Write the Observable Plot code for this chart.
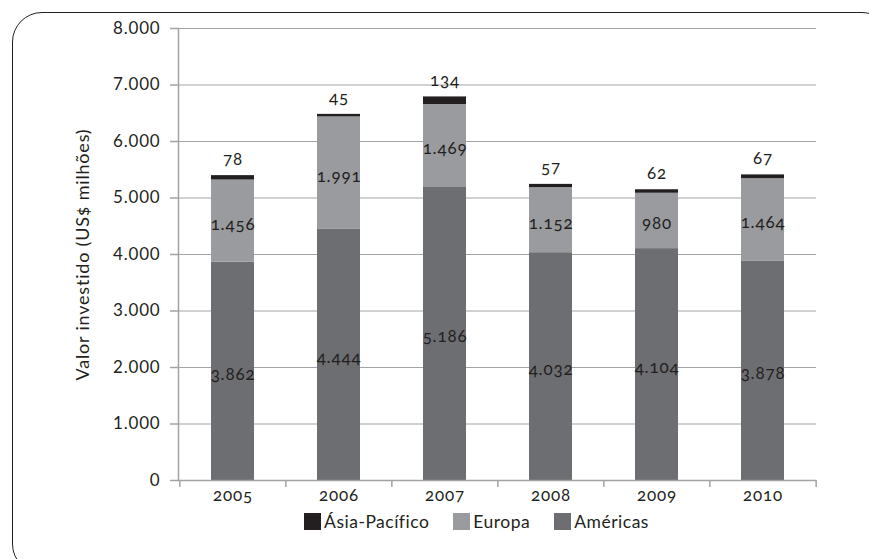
<!DOCTYPE html>
<html>
<head>
<meta charset="utf-8">
<script src="https://cdn.jsdelivr.net/npm/d3@7"></script>
<script src="https://cdn.jsdelivr.net/npm/@observablehq/plot@0.6"></script>
<style>
  html, body { margin: 0; padding: 0; background: #fff; }
  body { width: 869px; height: 559px; position: relative; overflow: hidden; font-family: Lato, "Open Sans", sans-serif; font-variant-numeric: oldstyle-nums; color: #231f20; }
  #frame { position: absolute; left: 12px; top: 12px; width: 880px; height: 562px; border: 1.3px solid #231f20; border-radius: 30px; box-sizing: border-box; pointer-events: none; }
  #chart { position: absolute; left: 0; top: 0; }
  #chart svg text { letter-spacing: 0.8px; }
  #chart svg g[aria-label="ytitle"] text { letter-spacing: 0; }
  #legend { position: absolute; left: 0; top: 511px; width: 869px; display: flex; justify-content: center; font-size: 17.5px; letter-spacing: 0.5px; padding-left: 84px; box-sizing: border-box; }
  #legend .item { display: flex; align-items: center; margin: 0 12px; }
  #legend .sw { width: 17px; height: 17px; margin-right: 3px; display: inline-block; }
</style>
</head>
<body>
<div id="chart"></div>
<div id="legend"></div>
<div id="frame"></div>
<script>
const years = ["2005", "2006", "2007", "2008", "2009", "2010"];
const americas = [3862, 4444, 5186, 4032, 4104, 3878];
const europa = [1456, 1991, 1469, 1152, 980, 1464];
const asia = [78, 45, 134, 57, 62, 67];
const regions = ["Américas", "Europa", "Ásia-Pacífico"];
const colors = ["#6d6e71", "#9a9b9e", "#231f20"];
const yTicks = [0, 1000, 2000, 3000, 4000, 5000, 6000, 7000, 8000];
const yLabel = "Valor investido (US$ milhões)";

const series = {"Américas": americas, "Europa": europa, "Ásia-Pacífico": asia};
const data = [];
for (const r of regions) years.forEach((y, i) => data.push({year: y, region: r, value: series[r][i]}));

const pt = d3.formatLocale({decimal: ",", thousands: ".", grouping: [3], currency: ["US$", ""]});
const fmt = pt.format(",d");

const W = 869, H = 508, mL = 178, mR = 53, mT = 28, mB = 28;
const halfStep = (W - mL - mR) / years.length / 2;
const tickLen = 7 / ((H - mT - mB) / 8000);
const grid = "#a3a3a3";

const chart = Plot.plot({
  width: W, height: H,
  marginLeft: mL, marginRight: mR, marginTop: mT, marginBottom: mB,
  style: {fontFamily: "Lato, 'Open Sans', sans-serif", fontSize: "16.5px", color: "#231f20", fontVariantNumeric: "oldstyle-nums"},
  x: {domain: years, paddingInner: 0.595, paddingOuter: 0.2975, label: null},
  y: {domain: [0, 8000], label: null},
  color: {domain: regions, range: colors},
  marks: [
    Plot.ruleY(yTicks.filter(d => d > 0), {stroke: grid, strokeWidth: 1.2}),
    Plot.barY(data, {x: "year", y: "value", fill: "region", z: "region", order: regions}),
    Plot.ruleY([0], {stroke: grid, strokeWidth: 1.5}),
    Plot.frame({anchor: "left", stroke: grid, strokeWidth: 1.5}),
    Plot.ruleX(years, {x: d => d, dx: -halfStep, y1: 0, y2: -tickLen, stroke: grid, strokeWidth: 1.5}),
    Plot.ruleX(years.slice(-1), {x: d => d, dx: halfStep, y1: 0, y2: -tickLen, stroke: grid, strokeWidth: 1.5}),
    Plot.axisY({ticks: yTicks, tickFormat: fmt, tickSize: 8, tickPadding: 10, stroke: grid, strokeWidth: 1.5, fontSize: 17, label: null}),
    Plot.axisX({tickSize: 0, tickPadding: 8, fontSize: 17, label: null}),
    Plot.text(data, Plot.stackY({x: "year", y: "value", z: "region", order: regions,
      text: d => d.region === "Ásia-Pacífico" ? "" : fmt(d.value), fontSize: 17, fill: "#231f20", dy: 3})),
    Plot.text(data, Plot.stackY2({x: "year", y: "value", z: "region", order: regions,
      text: d => d.region === "Ásia-Pacífico" ? fmt(d.value) : "", fontSize: 17, fill: "#231f20", lineAnchor: "bottom", dy: -11})),
    Plot.text([yLabel], {ariaLabel: "ytitle", frameAnchor: "left", rotate: -90, dx: -95, textAnchor: "middle", fontSize: 18, fill: "#231f20"})
  ]
});
document.getElementById("chart").appendChild(chart);

const legendOrder = ["Ásia-Pacífico", "Europa", "Américas"];
const legend = document.getElementById("legend");
for (const r of legendOrder) {
  const it = document.createElement("span");
  it.className = "item";
  const sw = document.createElement("span");
  sw.className = "sw";
  sw.style.background = colors[regions.indexOf(r)];
  it.appendChild(sw);
  it.appendChild(document.createTextNode(r));
  legend.appendChild(it);
}
</script>
</body>
</html>
